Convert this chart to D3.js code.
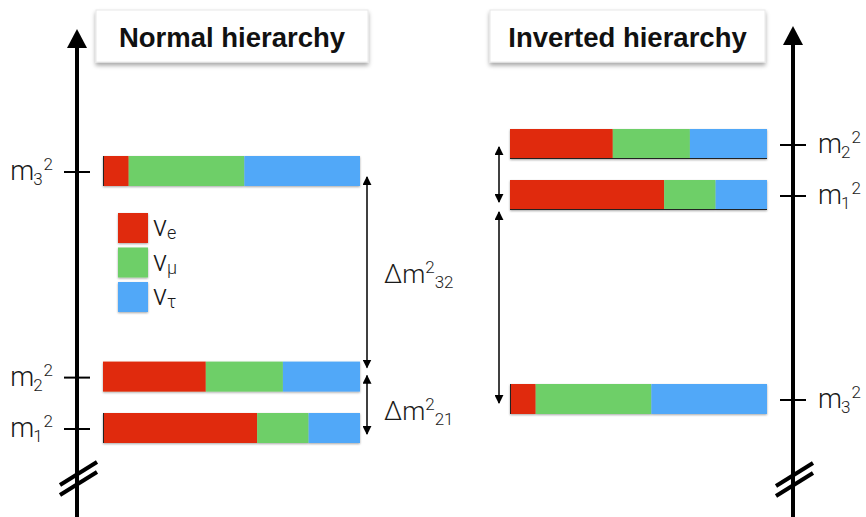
<!DOCTYPE html>
<html>
<head>
<meta charset="utf-8">
<script src="https://cdn.jsdelivr.net/npm/d3@7"></script>
<style>
  html, body { margin: 0; padding: 0; background: #fff; }
  svg { display: block; }
  .lbl { font-family: Roboto, "Liberation Sans", sans-serif; font-weight: 300; fill: #1a1a1a; }
  .title { font-family: "Liberation Sans", Arial, sans-serif; font-weight: bold; fill: #111; }
</style>
</head>
<body>
<svg id="chart" width="866" height="517"></svg>
<script>
// Mass eigenstates and their flavour content (fraction of each bar)
const states = ["1", "2", "3"];
const flavours = ["e", "μ", "τ"];
const fractionE   = [0.60, 0.40, 0.10];
const fractionMu  = [0.20, 0.30, 0.45];
const fractionTau = [0.20, 0.30, 0.45];

// Squared-mass level of each state (arbitrary units) in the two orderings
const normalMass2   = [0, 1, 5];
const invertedMass2 = [4, 5, 0];

// Splittings drawn as double arrows: [from state, to state, label]
const normalSplits   = [["3", "2", "32"], ["2", "1", "21"]];
const invertedSplits = [["2", "1"], ["1", "3"]];

const titles = ["Normal hierarchy", "Inverted hierarchy"];
const flavourColors = ["#E02B08", "#6ECF67", "#51A8F8"];

const svg = d3.select("#chart");
const defs = svg.append("defs");

const shadow = defs.append("filter").attr("id", "shadow")
  .attr("x", "-10%").attr("y", "-20%").attr("width", "120%").attr("height", "160%");
shadow.append("feDropShadow").attr("dx", 0).attr("dy", 3).attr("stdDeviation", 2)
  .attr("flood-color", "#000").attr("flood-opacity", 0.35);

const barShadow = defs.append("filter").attr("id", "barShadow")
  .attr("x", "-5%").attr("y", "-20%").attr("width", "110%").attr("height", "150%");
barShadow.append("feDropShadow").attr("dx", 0).attr("dy", 1).attr("stdDeviation", 0.8)
  .attr("flood-color", "#000").attr("flood-opacity", 0.35);

defs.append("marker").attr("id", "head")
  .attr("viewBox", "0 0 10 10").attr("refX", 9).attr("refY", 5)
  .attr("markerWidth", 9).attr("markerHeight", 9).attr("markerUnits", "userSpaceOnUse")
  .attr("orient", "auto-start-reverse")
  .append("path").attr("d", "M0,0 L10,5 L0,10 Z").attr("fill", "#000");

const stack = states.map((s, i) => {
  const vals = [fractionE[i], fractionMu[i], fractionTau[i]];
  let acc = 0;
  return vals.map((v, k) => { const seg = { state: s, k, x0: acc, x1: acc + v }; acc += v; return seg; });
});

// Draws one hierarchy panel
function panel(opts) {
  const g = svg.append("g");
  const x = d3.scaleLinear().domain([0, 1]).range(opts.barRange);
  const y = d3.scaleLinear().domain([0, 5]).range(opts.yRange);
  const barH = 30;

  // vertical energy axis with arrow tip
  g.append("line").attr("x1", opts.axisX).attr("x2", opts.axisX)
    .attr("y1", opts.axisTop + 14).attr("y2", 517)
    .attr("stroke", "#000").attr("stroke-width", 4);
  g.append("path")
    .attr("d", `M${opts.axisX},${opts.axisTop} L${opts.axisX + 10},${opts.axisTop + 19} L${opts.axisX - 10},${opts.axisTop + 19} Z`)
    .attr("fill", "#000");

  // axis break
  [0, 10].forEach(d => {
    g.append("line")
      .attr("x1", opts.axisX - 17).attr("y1", opts.breakY + 23 + d)
      .attr("x2", opts.axisX + 20).attr("y2", opts.breakY + d)
      .attr("stroke", "#000").attr("stroke-width", 4);
  });

  // ticks and labels
  states.forEach((s, i) => {
    const yy = y(opts.mass2[i]);
    g.append("line").attr("x1", opts.axisX - 13).attr("x2", opts.axisX + 13)
      .attr("y1", yy).attr("y2", yy).attr("stroke", "#000").attr("stroke-width", 2);
    const t = g.append("text").attr("class", "lbl")
      .attr("x", opts.labelX).attr("y", yy + 8)
      .attr("text-anchor", opts.labelAnchor).style("font-size", "27px");
    t.append("tspan").text("m");
    t.append("tspan").attr("dy", 5).attr("dx", -1).style("font-size", "17px").text(s);
    t.append("tspan").attr("dy", -15).attr("dx", 1).style("font-size", "17px").text("2");
  });

  // stacked flavour bars
  states.forEach((s, i) => {
    const yy = y(opts.mass2[i]) - 1;
    const bg = g.append("g").attr("filter", "url(#barShadow)");
    bg.selectAll("rect").data(stack[i]).join("rect")
      .attr("x", d => x(d.x0)).attr("width", d => x(d.x1) - x(d.x0))
      .attr("y", yy - barH / 2).attr("height", barH)
      .attr("fill", d => flavourColors[d.k]);
    if (opts.edges[i] === "left") {
      bg.append("line").attr("x1", x(0) + 0.5).attr("x2", x(0) + 0.5)
        .attr("y1", yy - barH / 2).attr("y2", yy + barH / 2)
        .attr("stroke", "#222").attr("stroke-width", 1);
    } else if (opts.edges[i] === "bottom") {
      bg.append("line").attr("x1", x(0)).attr("x2", x(1))
        .attr("y1", yy + barH / 2 - 0.5).attr("y2", yy + barH / 2 - 0.5)
        .attr("stroke", "#222").attr("stroke-width", 1);
    }
  });

  // splitting arrows
  opts.splits.forEach((sp, j) => {
    const a = y(opts.mass2[states.indexOf(sp[0])]);
    const b = y(opts.mass2[states.indexOf(sp[1])]);
    const off = opts.arrowOffsets[j];
    g.append("line").attr("x1", opts.arrowX).attr("x2", opts.arrowX)
      .attr("y1", a + off[0]).attr("y2", b + off[1])
      .attr("stroke", "#000").attr("stroke-width", 1.5)
      .attr("marker-start", "url(#head)").attr("marker-end", "url(#head)");
    if (sp[2]) {
      const t = g.append("text").attr("class", "lbl")
        .attr("x", opts.arrowX + 17).attr("y", (a + b) / 2 + opts.splitLabelDy[j])
        .style("font-size", "26px");
      t.append("tspan").text("Δm");
      t.append("tspan").attr("dy", -10).style("font-size", "17px").text("2");
      t.append("tspan").attr("dy", 15).style("font-size", "17px").text(sp[2]);
    }
  });

  // title card
  const card = g.append("g");
  card.append("rect").attr("x", opts.titleBox[0]).attr("y", 10)
    .attr("width", opts.titleBox[1] - opts.titleBox[0]).attr("height", 52)
    .attr("fill", "#fff").attr("stroke", "#e8e8e8").attr("stroke-width", 1)
    .attr("filter", "url(#shadow)");
  card.append("text").attr("class", "title")
    .attr("x", (opts.titleBox[0] + opts.titleBox[1]) / 2).attr("y", 47)
    .attr("text-anchor", "middle").style("font-size", "27.5px")
    .text(opts.title);
  return { x, y };
}

panel({
  title: titles[0], titleBox: [96, 368],
  axisX: 77, axisTop: 29, breakY: 462,
  barRange: [103, 360], yRange: [429, 172],
  mass2: normalMass2, edges: ["left", "none", "left"],
  labelX: 53, labelAnchor: "end",
  splits: normalSplits, arrowX: 367,
  arrowOffsets: [[5, -10], [-2, 5]], splitLabelDy: [8, 17]
});

panel({
  title: titles[1], titleBox: [490, 765],
  axisX: 793, axisTop: 26, breakY: 463,
  barRange: [510, 767], yRange: [400, 145],
  mass2: invertedMass2, edges: ["bottom", "bottom", "left"],
  labelX: 818, labelAnchor: "start",
  splits: invertedSplits, arrowX: 499,
  arrowOffsets: [[2, 6], [16, 3]], splitLabelDy: [0, 0]
});

// flavour legend
const legend = svg.append("g");
flavours.forEach((f, k) => {
  const yy = 213 + k * 34.5;
  legend.append("rect").attr("x", 118).attr("y", yy).attr("width", 30).attr("height", 30)
    .attr("fill", flavourColors[k]).attr("filter", "url(#barShadow)");
  const t = legend.append("text").attr("class", "lbl")
    .attr("x", 153).attr("y", yy + 23).style("font-size", "29px");
  t.append("tspan").text("ν");
  t.append("tspan").attr("dy", 3).style("font-size", "18px").text(f);
});
</script>
</body>
</html>
